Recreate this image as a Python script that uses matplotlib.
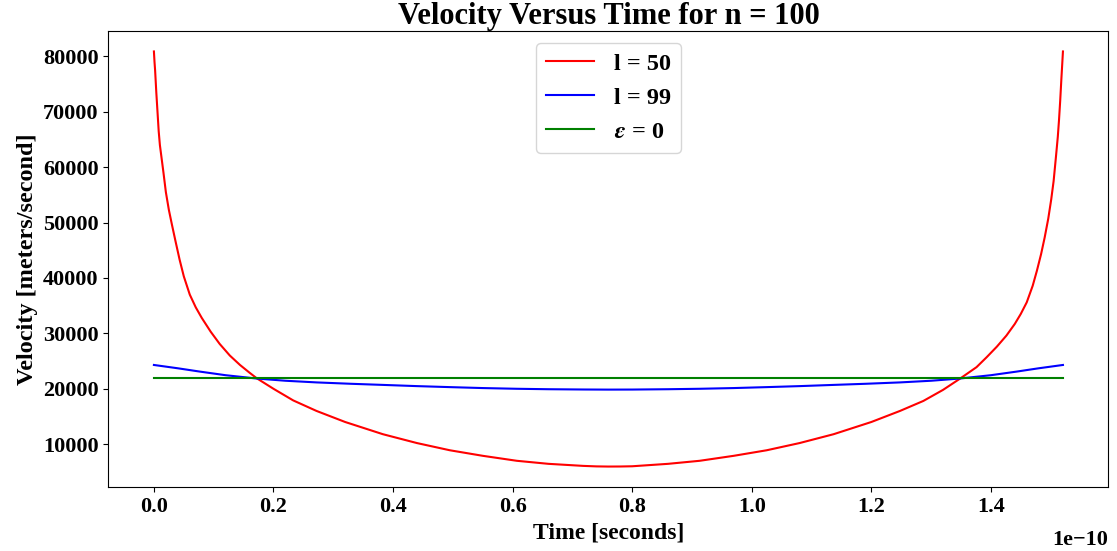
import matplotlib
matplotlib.use("Agg")
import numpy as np
from matplotlib import pyplot as plt

plt.rcParams['font.family'] = ['Liberation Serif', 'DejaVu Serif']
plt.rcParams['font.weight'] = 'bold'
plt.rcParams['mathtext.fontset'] = 'stix'

# time in units of 1e-10 s, velocity in m/s
t_red = [0.0, 0.001, 0.002, 0.004, 0.006, 0.008, 0.010, 0.013, 0.016, 0.020,
         0.025, 0.030, 0.036, 0.043, 0.050, 0.060, 0.070, 0.080, 0.095, 0.110,
         0.127, 0.144, 0.160, 0.172, 0.200, 0.233, 0.272, 0.32, 0.383, 0.44,
         0.495, 0.55, 0.607, 0.66, 0.718, 0.74, 0.76, 0.78,
         0.80, 0.86, 0.913, 0.97, 1.025, 1.08, 1.137, 1.20, 1.248, 1.287,
         1.320, 1.348, 1.376, 1.393, 1.410, 1.426, 1.440, 1.450, 1.460, 1.470,
         1.477, 1.484, 1.490, 1.496, 1.501, 1.505, 1.509, 1.512, 1.514, 1.516,
         1.518, 1.5195, 1.5206]
v_red = [80900, 79000, 77500, 73500, 70000, 66500, 64000, 61500, 59000, 55500,
         52300, 49700, 46700, 43300, 40300, 37000, 34700, 32800, 30300, 28100,
         26000, 24300, 22900, 21900, 20000, 17900, 16000, 14000, 11800, 10200,
         8900, 7900, 7000, 6450, 6080, 5990, 5960, 5970,
         6010, 6450, 7000, 7900, 8900, 10200, 11800, 14000, 16000, 17800,
         19800, 21800, 23900, 25700, 27600, 29600, 31700, 33500, 35600, 38600,
         41300, 44300, 47300, 50700, 54200, 57500, 62000, 65500, 68500, 72000,
         76000, 78800, 80900]

t_blue = [0.0, 0.04, 0.077, 0.12, 0.172, 0.22, 0.272, 0.33, 0.383, 0.44, 0.495,
          0.55, 0.607, 0.66, 0.718, 0.76, 0.80, 0.86, 0.913, 0.97, 1.025, 1.08,
          1.137, 1.19, 1.248, 1.30, 1.348, 1.40, 1.443, 1.48, 1.5206]
v_blue = [24300, 23700, 23100, 22450, 21850, 21450, 21150, 20900, 20700, 20480, 20300,
          20130, 20000, 19920, 19870, 19850, 19860, 19920, 20000, 20130, 20300, 20480,
          20700, 20900, 21150, 21450, 21850, 22450, 23100, 23700, 24300]

t_green = [0.0, 1.5206]
v_green = [21900, 21900]

t_red = np.array(t_red) * 1e-10
t_blue = np.array(t_blue) * 1e-10
t_green = np.array(t_green) * 1e-10

fig = plt.figure(figsize=(11.17, 5.51), dpi=100)
ax = fig.add_axes([0.0971, 0.1156, 0.8952, 0.8287])
ax.plot(t_red, v_red, 'r', lw=1.5, label='l = 50')
ax.plot(t_blue, v_blue, 'b', lw=1.5, label='l = 99')
ax.plot(t_green, v_green, 'g', lw=1.5, label=r'$\epsilon$ = 0')

ax.set_title('Velocity Versus Time for n = 100', fontsize=22, fontweight='bold', pad=4)
ax.set_xlabel('Time [seconds]', fontsize=17, fontweight='bold', labelpad=4)
ax.set_ylabel('Velocity [meters/second]', fontsize=17.5, fontweight='bold')
ax.tick_params(labelsize=16)
ax.xaxis.OFFSETTEXTPAD = 9
ax.xaxis.get_offset_text().set_fontsize(16)
ax.xaxis.get_offset_text().set_fontweight('bold')
ax.legend(loc='upper center', fontsize=17.5)

fig.savefig('out.png', dpi=100)
